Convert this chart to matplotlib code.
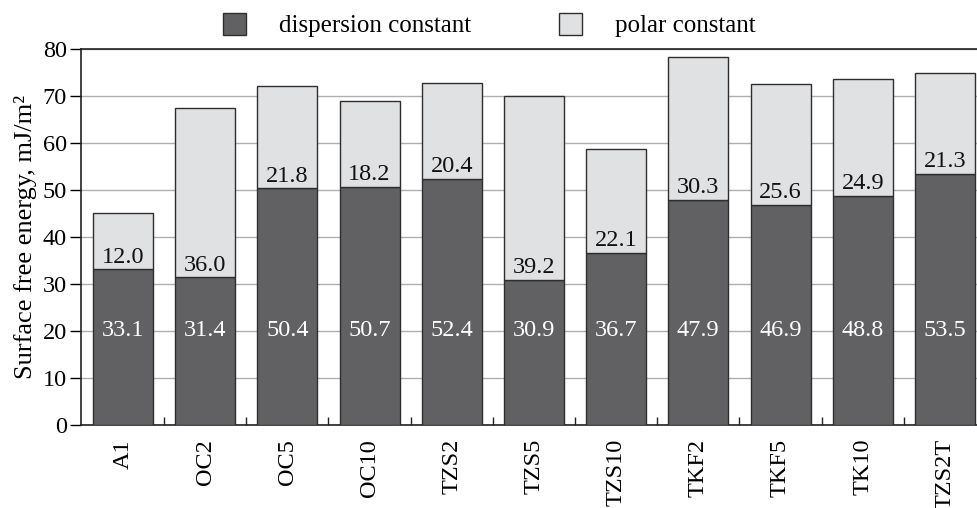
import matplotlib
matplotlib.use("Agg")
import matplotlib.pyplot as plt
from matplotlib.patches import Patch
import numpy as np

categories = ["A1", "OC2", "OC5", "OC10", "TZS2", "TZS5", "TZS10", "TKF2", "TKF5", "TK10", "TZS2T"]
dispersion = [33.1, 31.4, 50.4, 50.7, 52.4, 30.9, 36.7, 47.9, 46.9, 48.8, 53.5]
polar = [12.0, 36.0, 21.8, 18.2, 20.4, 39.2, 22.1, 30.3, 25.6, 24.9, 21.3]
yticks = [0, 10, 20, 30, 40, 50, 60, 70, 80]

plt.rcParams['font.family'] = ['Liberation Serif', 'DejaVu Serif']
FS = 17.5

fig = plt.figure(figsize=(9.77, 5.08), dpi=100)
ax = fig.add_axes([81/977, 83/508, 905/977, 376/508])

x = np.arange(len(categories))
dark = '#616163'
light = '#e0e1e3'
edge = '#2e2e2e'
w = 0.73
ax.bar(x, dispersion, width=w, color=dark, edgecolor=edge, linewidth=1.0, zorder=3,
       label='dispersion constant')
ax.bar(x, polar, bottom=dispersion, width=w, color=light, edgecolor=edge, linewidth=1.0,
       zorder=3, label='polar constant')

for xi, d, p in zip(x, dispersion, polar):
    ax.text(xi, 20, f"{d:.1f}", ha='center', va='center', color='white', fontsize=FS, zorder=4)
    ax.text(xi, d + 0.3, f"{p:.1f}", ha='center', va='bottom', color='#111111', fontsize=FS, zorder=4)

ax.set_xlim(-0.51, 10.5)
ax.set_ylim(0, 80)
ax.set_yticks(yticks)
ax.yaxis.grid(True, color='#b0b0b0', linewidth=1.0, zorder=0)
ax.set_axisbelow(True)
ax.set_xticks(x)
ax.set_xticklabels(categories, rotation=90, fontsize=FS)
ax.set_xticks(x[:-1] + 0.5, minor=True)
ax.tick_params(axis='x', which='major', length=0, pad=10)
ax.tick_params(axis='x', which='minor', direction='in', length=6, width=1.0, color='#222222')
ax.tick_params(axis='y', which='major', direction='out', length=8, width=1.0, labelsize=FS, pad=2)
for s in ['left', 'bottom', 'top']:
    ax.spines[s].set_color('#222222')
    ax.spines[s].set_linewidth(1.2)
ax.spines['right'].set_visible(False)

ax.set_ylabel("Surface free energy, mJ/m²", fontsize=19, labelpad=4)

handles = [Patch(facecolor=dark, edgecolor=edge, linewidth=1.0),
           Patch(facecolor=light, edgecolor=edge, linewidth=1.0)]
fig.legend(handles, ['dispersion constant', 'polar constant'], loc='center',
           bbox_to_anchor=(489/977, 1 - 25/508), ncol=2, frameon=False, fontsize=18,
           handlelength=0.95, handleheight=1.0, handletextpad=1.3, columnspacing=3.5)

fig.savefig("out.png", dpi=100)
